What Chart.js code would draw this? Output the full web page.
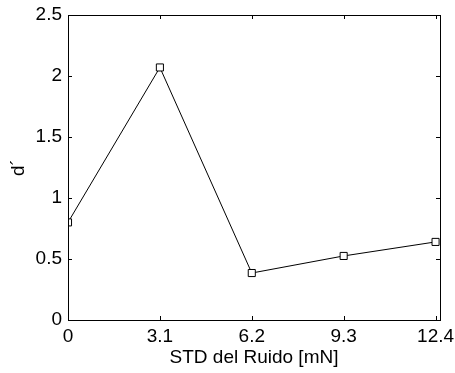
<!DOCTYPE html>
<html>
<head>
<meta charset="utf-8">
<script src="https://cdn.jsdelivr.net/npm/chart.js@4"></script>
<style>
    body { margin: 0; background: #fff; }
</style>
</head>
<body>
<canvas id="ruidoChart" width="455" height="373"></canvas>
<script>
// Noise level and d' values
const ruidoStd = [0, 3.1, 6.2, 9.3, 12.4];
const dPrima = [0.80, 2.07, 0.385, 0.525, 0.64];

// Tick labels
const xTicks = ["0", "3.1", "6.2", "9.3", "12.4"];
const yTicks = ["0", "0.5", "1", "1.5", "2", "2.5"];

const fontFamily = "'Liberation Sans', Arial, Helvetica, sans-serif";

// Box around the axes with inward tick marks on all four sides
const boxTicks = {
    id: "boxTicks",
    afterDraw(chart) {
        const { ctx, chartArea: a, scales } = chart;
        const len = 4;
        ctx.save();
        ctx.strokeStyle = "#000";
        ctx.lineWidth = 1;
        ctx.beginPath();
        xTicks.forEach((t) => {
            const px = Math.round(scales.x.getPixelForValue(parseFloat(t))) + 0.5;
            ctx.moveTo(px, a.bottom);
            ctx.lineTo(px, a.bottom - len);
            ctx.moveTo(px, a.top);
            ctx.lineTo(px, a.top + len);
        });
        yTicks.forEach((t) => {
            const py = Math.round(scales.y.getPixelForValue(parseFloat(t))) + 0.5;
            ctx.moveTo(a.left, py);
            ctx.lineTo(a.left + len, py);
            ctx.moveTo(a.right, py);
            ctx.lineTo(a.right - len, py);
        });
        ctx.stroke();
        ctx.strokeRect(Math.round(a.left) + 0.5, Math.round(a.top) + 0.5,
            Math.round(a.right - a.left), Math.round(a.bottom - a.top));
        ctx.restore();
    },
};

const ctx = document.getElementById("ruidoChart").getContext("2d");
new Chart(ctx, {
    type: "line",
    data: {
        datasets: [
            {
                data: ruidoStd.map((x, i) => ({ x, y: dPrima[i] })),
                borderColor: "#000",
                borderWidth: 1,
                pointStyle: "rect",
                pointRadius: 5,
                pointBorderWidth: 1,
                pointBorderColor: "#000",
                pointBackgroundColor: "#fff",
                tension: 0,
                fill: false,
            },
        ],
    },
    options: {
        responsive: false,
        animation: false,
        layout: { padding: { top: 15, right: 15, left: 0, bottom: 0 } },
        plugins: {
            legend: { display: false },
            tooltip: { enabled: false },
        },
        scales: {
            x: {
                type: "linear",
                min: 0,
                max: 12.55,
                afterBuildTicks: (scale) => {
                    scale.ticks = xTicks.map((t) => ({ value: parseFloat(t) }));
                },
                afterFit: (scale) => {
                    scale.height = 53;
                    scale.paddingLeft = 0;
                    scale.paddingRight = 0;
                },
                ticks: {
                    color: "#000",
                    padding: 5,
                    maxRotation: 0,
                    font: { family: fontFamily, size: 19 },
                    callback: (v) => xTicks.find((t) => Math.abs(parseFloat(t) - v) < 1e-6),
                },
                grid: { display: false, drawTicks: false },
                border: { display: false },
                title: {
                    display: true,
                    text: "STD del Ruido [mN]",
                    color: "#000",
                    padding: { top: 0, bottom: 4 },
                    font: { family: fontFamily, size: 19 },
                },
            },
            y: {
                min: 0,
                max: 2.5,
                afterBuildTicks: (scale) => {
                    scale.ticks = yTicks.map((t) => ({ value: parseFloat(t) }));
                },
                afterFit: (scale) => {
                    scale.width = 68;
                    scale.paddingTop = 0;
                    scale.paddingBottom = 0;
                },
                ticks: {
                    color: "#000",
                    padding: 6,
                    font: { family: fontFamily, size: 19 },
                    callback: (v) => yTicks.find((t) => Math.abs(parseFloat(t) - v) < 1e-6),
                },
                grid: { display: false, drawTicks: false },
                border: { display: false },
                title: {
                    display: true,
                    text: "d´",
                    color: "#000",
                    padding: { top: 7, bottom: 0 },
                    font: { family: fontFamily, size: 19 },
                },
            },
        },
    },
    plugins: [boxTicks],
});
</script>
</body>
</html>
